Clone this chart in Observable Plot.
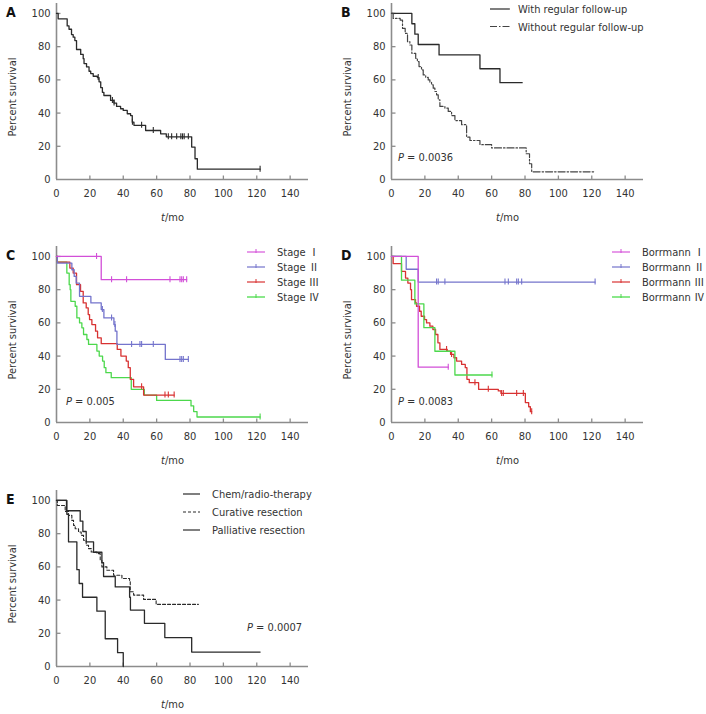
<!DOCTYPE html>
<html>
<head>
<meta charset="utf-8">
<script src="https://cdn.jsdelivr.net/npm/d3@7"></script>
<script src="https://cdn.jsdelivr.net/npm/@observablehq/plot@0.6"></script>
<style>
  html, body { margin: 0; padding: 0; background: #fff; }
  body { width: 706px; height: 714px; position: relative; overflow: hidden; }
  .panel { position: absolute; }
  .panel svg { overflow: visible; }
</style>
</head>
<body>
<div id="A" class="panel" style="left:0px;top:0px"></div>
<div id="B" class="panel" style="left:335px;top:0px"></div>
<div id="C" class="panel" style="left:0px;top:243px"></div>
<div id="D" class="panel" style="left:335px;top:243px"></div>
<div id="E" class="panel" style="left:0px;top:487px"></div>
<script>
// ---------------- tick labels ----------------
const xTicks = [0, 20, 40, 60, 80, 100, 120, 140];
const yTicks = [0, 20, 40, 60, 80, 100];

// ---------------- Panel A: overall ----------------
const aTime = [0, 1, 6.4, 7.5, 9, 10, 11, 12, 14.5, 16, 16.5, 18, 19.5, 20.5, 22, 24.5, 25.5, 26.5, 27.5, 28.4, 32.4, 34.4, 36, 38.4, 40, 42.4, 44.4, 45.4, 46.4, 53.4, 62.4, 65.8, 81, 83, 84.4];
const aSurv = [100, 96.8, 92.5, 90.5, 87.3, 85.7, 83.7, 78.3, 75.3, 72.8, 69.8, 67.8, 65.2, 63.8, 62.2, 61.4, 58.8, 55.3, 52.5, 50.6, 47.6, 46, 44, 42.6, 41.6, 39.6, 38.5, 34.5, 32.6, 29.5, 27.5, 25.7, 19.5, 12.5, 6.2];
const aEnd = 122;
const aCensor = [25, 33.5, 34.5, 45.5, 51, 58, 67, 69, 72, 74.5, 75.5, 76.5, 79, 122];

// ---------------- Panel B: follow-up ----------------
const bWithTime = [0, 12.2, 14, 16, 28.5, 53, 65];
const bWithSurv = [100, 93.8, 87.5, 81.3, 75, 66.7, 58.3];
const bWithEnd = 78.3;
const bWithoutTime = [0, 1, 5.2, 6.6, 8.2, 9.6, 11, 12.2, 14.5, 15.5, 16.5, 18, 19, 20.5, 22, 23, 24, 25, 26, 27, 28, 29, 32, 34, 36, 38, 42, 45, 47, 53, 60, 80.7, 82.7, 84];
const bWithoutSurv = [100, 97, 96, 91, 88, 83, 81, 76, 73, 71, 68, 66, 63, 61.5, 60, 58.5, 57, 55, 53, 51, 48, 44, 43, 41, 38.5, 35.5, 33, 25.5, 23.5, 21, 19, 15.5, 9.5, 4.6];
const bWithoutEnd = 122;
const bLabels = ["With regular follow-up", "Without regular follow-up"];

// ---------------- Panel C: stage ----------------
const cPrefix = "Stage";
const cNumerals = ["\u2160", "\u2161", "\u2162", "\u2163"];
const c1Time = [0, 26.8];
const c1Surv = [100, 86];
const c1End = 78;
const c1Censor = [24, 33, 42, 68, 74, 75, 76, 78];
const c2Time = [0, 0.5, 9.2, 10.6, 11.8, 13.8, 20.6, 26.8, 28.4, 34.4, 35.2, 36.2, 65.2];
const c2Surv = [100, 96, 92, 88, 84, 76, 72, 68, 63, 59, 55, 47, 38];
const c2End = 79;
const c2Censor = [27.5, 33, 35, 45, 50, 51, 58, 74, 75, 76, 79];
const c3Time = [0, 0.5, 8, 10, 12, 14.4, 16, 17.8, 19, 19.8, 21.2, 23.4, 24.6, 26.8, 36.4, 38.6, 41.8, 43, 44.2, 46.2, 52.2];
const c3Surv = [100, 96.6, 93, 90, 83, 79, 72, 69, 65, 62, 59, 55, 51, 47.5, 44, 40, 37, 33, 26, 21.5, 16.5];
const c3End = 70.5;
const c3Censor = [51, 65, 67, 70.5];
const c4Time = [0, 0.5, 6.2, 7.6, 8.2, 8.6, 11.2, 12.2, 13.8, 15.2, 16.2, 18.2, 19.2, 24.2, 25.6, 27.6, 28.6, 29.6, 32.8, 44.8, 52.6, 60, 80.6, 82.2, 84.2];
const c4Surv = [100, 96.6, 90, 83, 80, 73, 70, 63, 60, 57, 53, 50, 47, 43, 40, 37, 33, 30, 27, 20, 16.5, 13.3, 10, 6.6, 3.3];
const c4End = 122;
const c4Censor = [122];

// ---------------- Panel D: Borrmann type ----------------
const dPrefix = "Borrmann";
const dNumerals = ["\u2160", "\u2161", "\u2162", "\u2163"];
const d1Time = [0, 16];
const d1Surv = [100, 33.3];
const d1End = 34;
const d1Censor = [34];
const d2Time = [0, 8.8, 16];
const d2Surv = [100, 92.3, 84.6];
const d2End = 122;
const d2Censor = [27, 28, 32, 68, 70, 75, 76, 78, 122];
const d3Time = [0, 1, 6, 8.4, 9.8, 11.4, 12, 14.4, 15, 16.8, 17.8, 19.8, 21, 23, 24.8, 26.4, 27.8, 29, 33.4, 35.4, 37.4, 39, 42, 44.2, 45.2, 46.6, 52.2, 64, 65.6, 80.2, 82.2, 83.2];
const d3Surv = [100, 95.7, 91, 87, 84, 80, 74, 72, 70, 67, 64, 62, 60, 58, 56, 53, 48, 44, 43, 41, 39, 37, 35, 33, 26, 24, 20, 19, 17.5, 12, 9.5, 6.5];
const d3End = 84;
const d3Censor = [33, 36, 50, 58, 66, 67, 75, 79, 84];
const d4Time = [0, 6, 14, 19.4, 26, 38];
const d4Surv = [100, 85.7, 71.4, 57.1, 42.9, 28.6];
const d4End = 60.2;
const d4Censor = [60.2];

// ---------------- Panel E: treatment ----------------
const eLabels = ["Chem/radio-therapy", "Curative resection", "Palliative resection"];
const eChemTime = [0, 6.2, 7.2, 12.2, 13.6, 15.6, 24.2, 29.2, 36.6, 40];
const eChemSurv = [100, 91.7, 75, 58.3, 50, 41.7, 33.3, 16.7, 8.3, 0];
const eChemEnd = 40;
const eCurTime = [0, 0.5, 5.2, 7.2, 9.2, 10.2, 11.2, 13.2, 14.8, 16.2, 17.8, 19.2, 20.8, 24.2, 26.2, 27.2, 30.2, 34.2, 39.2, 43.8, 44.2, 46.2, 52.2, 59.7];
const eCurSurv = [100, 97, 93.4, 91, 88, 85, 83, 81, 79, 76, 73, 71, 69, 68, 64, 60, 58, 55, 53, 51, 45, 43, 40.4, 37.4];
const eCurEnd = 85;
const ePalTime = [0, 6, 14.2, 15.8, 17.8, 22.2, 27.2, 28.2, 35.2, 43.8, 44.3, 52.7, 64.9, 81];
const ePalSurv = [100, 93.8, 87.5, 81.3, 75, 68.8, 62.5, 54.2, 47.9, 41.7, 34, 26, 17.4, 8.7];
const ePalEnd = 122;

const pValues = {B: "0.0036", C: "0.005", D: "0.0083", E: "0.0007"};

// ---------------- helpers ----------------
const FONT = '"DejaVu Sans Condensed", "DejaVu Sans", sans-serif';
const CJK = '"Noto Sans CJK SC", "Noto Sans CJK JP", sans-serif';
const TEXT = "#333";
const AXIS = "#8c8c8c";

function steps(time, surv, end) {
  const pts = time.map((t, i) => ({t, s: surv[i]}));
  pts.push({t: end, s: surv[surv.length - 1]});
  return pts;
}
function survAt(time, surv, t) {
  let s = surv[0];
  for (let i = 0; i < time.length; i++) if (time[i] <= t) s = surv[i];
  return s;
}
const upTick = {draw(ctx) { ctx.moveTo(0, 0); ctx.lineTo(0, -4); }};
const rightTick = {draw(ctx) { ctx.moveTo(0, 0); ctx.lineTo(4, 0); }};
const censorTick = {draw(ctx) { ctx.moveTo(0, -3.5); ctx.lineTo(0, 2.5); }};

function addText(g, x, y, size, anchor) {
  return g.append("text").attr("x", x).attr("y", y).attr("font-family", FONT)
    .attr("font-size", size).attr("fill", TEXT).attr("text-anchor", anchor || "start");
}

function panel(id, opts) {
  const {series, letter, legend, legendPos, pText, pPos} = opts;
  const marks = [
    Plot.ruleY([0], {stroke: AXIS, strokeWidth: 1.6}),
    Plot.ruleX([0], {stroke: AXIS, strokeWidth: 1.6}),
    Plot.dot(xTicks.slice(1), {x: d => d, y: 0, symbol: upTick, stroke: AXIS, strokeWidth: 1.3, r: 3}),
    Plot.dot(yTicks.slice(1), {x: 0, y: d => d, symbol: rightTick, stroke: AXIS, strokeWidth: 1.3, r: 3}),
    Plot.axisX(xTicks, {tickSize: 0, tickPadding: 10, label: null, fill: TEXT}),
    Plot.axisY(yTicks, {tickSize: 0, tickPadding: 6, label: null, fill: TEXT})
  ];
  for (const s of series) {
    marks.push(Plot.line(steps(s.time, s.surv, s.end), {
      x: "t", y: "s", curve: "step-after", stroke: s.color, strokeWidth: s.width || 1.3,
      strokeDasharray: s.dash || null
    }));
    if (s.censor) {
      marks.push(Plot.dot(s.censor, {
        x: d => d, y: d => survAt(s.time, s.surv, d), symbol: censorTick, r: 3,
        stroke: s.color, strokeWidth: 1.1
      }));
    }
  }
  const svg = Plot.plot({
    width: 350, height: 240,
    marginLeft: 56, marginRight: 42, marginTop: 3, marginBottom: 61,
    x: {domain: [0, 151]},
    y: {domain: [0, 106]},
    style: {fontFamily: FONT, fontSize: "11px", color: TEXT, background: "transparent"},
    marks
  });
  const g = d3.select(svg);
  // panel letter
  addText(g, 6, 16.5, 14).attr("font-weight", "bold").attr("fill", "#111").text(letter);
  // y label
  g.append("text").attr("transform", "translate(16,97) rotate(-90)").attr("text-anchor", "middle")
    .attr("font-family", FONT).attr("font-size", 11).attr("fill", TEXT).text("Percent survival");
  // x label
  const xl = addText(g, 172.5, 221, 11, "middle");
  xl.append("tspan").attr("font-style", "italic").text("t");
  xl.append("tspan").text("/mo");
  // p value
  if (pText) {
    const pt = addText(g, pPos[0], pPos[1], 11);
    pt.append("tspan").attr("font-style", "italic").text("P");
    pt.append("tspan").text(" = " + pText);
  }
  // legend
  if (legend) {
    const [lx, ly, lw, tx, dy] = legendPos;
    legend.forEach((item, i) => {
      const y = ly + i * dy;
      g.append("line").attr("x1", lx).attr("x2", lx + lw).attr("y1", y).attr("y2", y)
        .attr("stroke", item.lcolor || item.color).attr("stroke-width", item.lwidth || 1.2)
        .attr("stroke-dasharray", item.dash || null);
      if (item.tick) {
        g.append("line").attr("x1", lx + lw / 2).attr("x2", lx + lw / 2).attr("y1", y - 3).attr("y2", y + 1)
          .attr("stroke", item.color).attr("stroke-width", 1);
      }
      const t = addText(g, tx, y + 4, 11);
      if (item.numeral) {
        t.append("tspan").text(item.label + " ");
        t.append("tspan").attr("font-family", CJK).attr("font-size", 10.5).text(item.numeral);
      } else {
        t.text(item.label);
      }
    });
  }
  document.getElementById(id).appendChild(svg);
}

// ---------------- draw ----------------
const BLACK = "#2a2a2a";
panel("A", {
  letter: "A",
  series: [{time: aTime, surv: aSurv, end: aEnd, censor: aCensor, color: BLACK}]
});

panel("B", {
  letter: "B", pText: pValues.B, pPos: [63, 161],
  series: [
    {time: bWithTime, surv: bWithSurv, end: bWithEnd, color: BLACK},
    {time: bWithoutTime, surv: bWithoutSurv, end: bWithoutEnd, color: "#444", dash: "7,2,1.5,2", width: 1.2}
  ],
  legend: [
    {label: bLabels[0], color: BLACK},
    {label: bLabels[1], color: "#444", dash: "7,2,1.5,2"}
  ],
  legendPos: [155, 9, 20, 183, 17.5]
});

const MAG = "#d24fd8", BLU = "#7474cc", RED = "#d83232", GRN = "#4cd84c";
const MAGL = "#e79ae9", GRNL = "#8ae88a";
panel("C", {
  letter: "C", pText: pValues.C, pPos: [66, 162],
  series: [
    {time: c4Time, surv: c4Surv, end: c4End, censor: c4Censor, color: GRN},
    {time: c3Time, surv: c3Surv, end: c3End, censor: c3Censor, color: RED},
    {time: c2Time, surv: c2Surv, end: c2End, censor: c2Censor, color: BLU},
    {time: c1Time, surv: c1Surv, end: c1End, censor: c1Censor, color: MAG}
  ],
  legend: [
    {label: cPrefix, numeral: cNumerals[0], color: MAG, lcolor: MAGL, lwidth: 2, tick: true},
    {label: cPrefix, numeral: cNumerals[1], color: BLU, lcolor: BLU, lwidth: 1.2, tick: true},
    {label: cPrefix, numeral: cNumerals[2], color: RED, lcolor: RED, lwidth: 1.2, tick: true},
    {label: cPrefix, numeral: cNumerals[3], color: GRN, lcolor: GRNL, lwidth: 2, tick: true}
  ],
  legendPos: [247, 9, 18, 277, 15]
});

panel("D", {
  letter: "D", pText: pValues.D, pPos: [63, 162],
  series: [
    {time: d3Time, surv: d3Surv, end: d3End, censor: d3Censor, color: RED},
    {time: d4Time, surv: d4Surv, end: d4End, censor: d4Censor, color: GRN},
    {time: d2Time, surv: d2Surv, end: d2End, censor: d2Censor, color: BLU},
    {time: d1Time, surv: d1Surv, end: d1End, censor: d1Censor, color: MAG}
  ],
  legend: [
    {label: dPrefix, numeral: dNumerals[0], color: MAG, lcolor: MAGL, lwidth: 2, tick: true},
    {label: dPrefix, numeral: dNumerals[1], color: BLU, lcolor: BLU, lwidth: 1.2, tick: true},
    {label: dPrefix, numeral: dNumerals[2], color: RED, lcolor: RED, lwidth: 1.2, tick: true},
    {label: dPrefix, numeral: dNumerals[3], color: GRN, lcolor: GRNL, lwidth: 2, tick: true}
  ],
  legendPos: [277, 9, 18, 307, 15]
});

panel("E", {
  letter: "E", pText: pValues.E, pPos: [247, 144],
  series: [
    {time: ePalTime, surv: ePalSurv, end: ePalEnd, color: BLACK},
    {time: eCurTime, surv: eCurSurv, end: eCurEnd, color: BLACK, dash: "3,2", width: 1.1},
    {time: eChemTime, surv: eChemSurv, end: eChemEnd, color: BLACK}
  ],
  legend: [
    {label: eLabels[0], color: BLACK},
    {label: eLabels[1], color: BLACK, dash: "3,2"},
    {label: eLabels[2], color: BLACK}
  ],
  legendPos: [183, 7, 17, 212, 18]
});
</script>
</body>
</html>
